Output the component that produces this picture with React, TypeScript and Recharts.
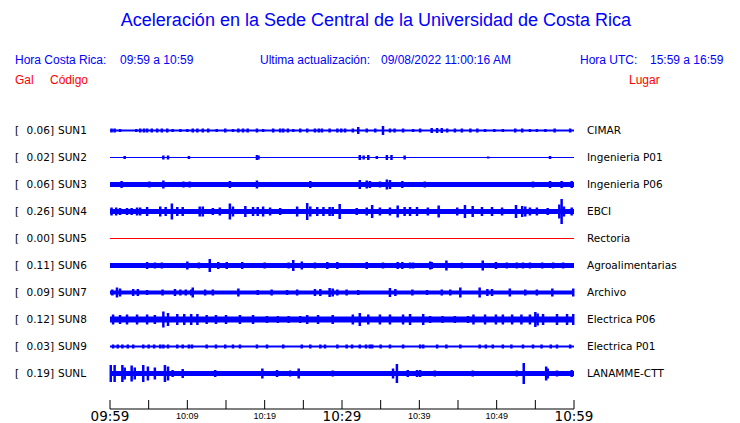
import { ComposedChart, Area, Scatter, ErrorBar, XAxis, YAxis } from "recharts";

const STATIONS = ["SUN1", "SUN2", "SUN3", "SUN4", "SUN5", "SUN6", "SUN7", "SUN8", "SUN9", "SUNL"];
const GAL = ["0.06", "0.02", "0.06", "0.26", "0.00", "0.11", "0.09", "0.12", "0.03", "0.19"];
const PLACES = [
  "CIMAR",
  "Ingenieria P01",
  "Ingenieria P06",
  "EBCI",
  "Rectoria",
  "Agroalimentarias",
  "Archivo",
  "Electrica P06",
  "Electrica P01",
  "LANAMME-CTT",
];
// steady noise level of each trace (half height, 1/27 of a row)
const BASE = [1, 0.5, 2.5, 2.5, 0.5, 2.5, 2, 3, 1, 2.5];

// [minute after 09:59, half amplitude]
const SUN1 = [[0.2, 2], [0.6, 2], [1.3, 1.5], [3.4, 1.5], [3.9, 2], [4.4, 2], [4.8, 2], [5.4, 2], [6.1, 2], [6.7, 2], [7.4, 2], [8.1, 1.5], [9.1, 1.5], [10.0, 1.5], [10.7, 2], [11.3, 2], [12.0, 2], [12.7, 2], [13.8, 1.5], [14.9, 2], [15.9, 1.5], [16.6, 2], [17.2, 2], [17.8, 2], [19.0, 2], [19.8, 1.5], [21.1, 2], [22.0, 2], [22.4, 2], [23.0, 2], [23.7, 1.5], [24.6, 2], [25.5, 2], [26.5, 2], [27.0, 2], [27.4, 2], [28.4, 2], [29.4, 2], [29.9, 2], [30.4, 2], [31.4, 2], [32.1, 3.5], [33.2, 2], [34.3, 2], [35.3, 4.5], [36.2, 2], [36.8, 2], [37.9, 2], [39.2, 1.5], [40.1, 2], [41.6, 2.5], [42.3, 2.5], [42.9, 2.5], [43.6, 2], [44.6, 2], [45.5, 2], [46.6, 2], [47.5, 2], [48.5, 1.5], [49.7, 1.5], [50.8, 1.5], [52.4, 2], [53.3, 2], [54.3, 1.5], [55.2, 1.5], [56.3, 1.5], [57.5, 2], [59.5, 2]];
const SUN2 = [[1.9, 1.5], [6.9, 2], [7.5, 2], [10.2, 1.5], [19.0, 2.5], [19.2, 2], [32.3, 2.5], [32.8, 2], [33.4, 2.5], [34.5, 1.5], [35.8, 2.5], [36.4, 2.5], [38.1, 2], [48.9, 1], [56.9, 1.5]];
const SUN3 = [[1.5, 3.5], [5.1, 3], [6.9, 4], [9.5, 3], [10.3, 3], [15.5, 3.5], [19.0, 4], [25.9, 3.5], [32.3, 4.5], [33.2, 4], [33.6, 3.5], [34.9, 3], [35.8, 5], [36.2, 4.5], [37.8, 3.5], [40.7, 3], [54.7, 3], [56.9, 3.5], [58.4, 3.5], [59.7, 3.5]];
const SUN4 = [[0.2, 4], [0.8, 4], [1.3, 3.5], [2.2, 3.5], [2.8, 3.5], [3.5, 4], [3.9, 4], [4.8, 4.5], [6.5, 5], [7.2, 4.5], [8.0, 8], [8.7, 4.5], [9.4, 4.5], [11.6, 5], [12.0, 5], [13.3, 3.5], [14.2, 4], [15.5, 8], [15.9, 5], [17.5, 5.5], [18.5, 4.5], [19.1, 4.5], [19.8, 5], [20.7, 4], [22.0, 3.5], [24.2, 5], [25.5, 8.5], [25.9, 5], [26.8, 4.5], [27.6, 4.5], [28.4, 4.5], [28.8, 4.5], [29.7, 7.5], [31.9, 3.5], [33.2, 4], [33.9, 6.5], [34.9, 4], [36.2, 4], [37.2, 6], [38.1, 4.5], [38.8, 4.5], [39.7, 4.5], [41.1, 4], [42.5, 6], [44.9, 4], [45.9, 6.5], [46.9, 5.5], [48.1, 4.5], [49.4, 4.5], [50.7, 4], [52.5, 6.5], [53.3, 5.5], [53.7, 5], [54.3, 4], [55.2, 4], [56.6, 3.5], [58.1, 7], [58.4, 12.5], [58.7, 5], [59.7, 4]];
const SUN5: number[][] = [];
const SUN6 = [[4.8, 3.5], [5.8, 3], [6.7, 3], [10.0, 4], [11.5, 3], [12.9, 6.5], [14.0, 3.5], [15.1, 3.5], [17.1, 3.5], [20.0, 3], [23.1, 3], [23.7, 5.5], [24.8, 4], [26.5, 3], [28.1, 3.5], [29.4, 3.5], [33.2, 3.5], [35.3, 3], [37.2, 3.5], [37.8, 3.5], [38.8, 3], [39.2, 3], [41.4, 4], [41.6, 3.5], [43.5, 5], [45.5, 3], [48.2, 5], [49.9, 3.5], [51.3, 3], [52.6, 3], [53.4, 3], [54.3, 3], [55.9, 3], [57.3, 3], [58.6, 3]];
const SUN7 = [[0.3, 3], [0.9, 5], [1.3, 4], [3.0, 3.5], [3.6, 3.5], [4.8, 2.5], [6.8, 3], [8.4, 3.5], [9.1, 3], [9.8, 3], [10.5, 3], [10.7, 5], [12.3, 3], [13.3, 3], [16.6, 4], [19.1, 2.5], [20.9, 3], [22.9, 2.5], [24.2, 3], [26.5, 3.5], [27.2, 3.5], [28.4, 4.5], [28.8, 4], [29.4, 3], [30.6, 3], [32.1, 2.5], [36.2, 4.5], [36.9, 3.5], [39.1, 3], [41.0, 2.5], [42.9, 3], [44.0, 3], [45.3, 5], [47.8, 5], [48.8, 3.5], [49.4, 3.5], [51.7, 4], [53.7, 3], [55.2, 3], [57.2, 4], [59.9, 4]];
const SUN8 = [[0.4, 5], [1.3, 4.5], [2.2, 5], [3.5, 5], [4.8, 5], [5.8, 4.5], [6.9, 8], [7.5, 6.5], [8.7, 5.5], [9.6, 5.5], [10.5, 5.5], [11.3, 5.5], [12.5, 4.5], [13.7, 4.5], [15.0, 4.5], [16.8, 4.5], [18.5, 4.5], [20.3, 3.5], [21.7, 3.5], [23.1, 3.5], [24.6, 3.5], [25.5, 4.5], [26.9, 4.5], [28.8, 4.5], [31.4, 5], [32.3, 6.5], [33.4, 5], [34.9, 5], [36.2, 5], [37.9, 5], [38.8, 5.5], [40.5, 5.5], [41.4, 3.5], [43.0, 3.5], [44.6, 3.5], [46.3, 3.5], [47.0, 5], [48.5, 5], [49.9, 5], [50.8, 5], [52.0, 5], [53.2, 5], [54.3, 5], [55.0, 7.5], [55.3, 6], [56.0, 5.5], [57.8, 5.5], [59.1, 5.5], [59.9, 5.5]];
const SUN9 = [[0.4, 2], [1.0, 2], [1.6, 2], [2.3, 2], [3.0, 2], [4.3, 2], [5.0, 2], [5.7, 2], [6.5, 2], [6.9, 2], [7.5, 2], [8.7, 2], [9.4, 2], [10.2, 2], [10.6, 2], [12.5, 2], [13.7, 2], [14.9, 2], [15.9, 2], [16.8, 2], [19.0, 2], [20.3, 2], [22.4, 2], [24.8, 2], [25.9, 2], [27.2, 2], [27.8, 2], [29.4, 2], [30.6, 2], [31.3, 2], [32.3, 2], [33.1, 2], [33.6, 2], [33.9, 2], [35.0, 2], [36.2, 2], [37.9, 2], [40.1, 2], [40.5, 2], [42.3, 2], [43.5, 2], [45.3, 2], [47.8, 2], [48.6, 2], [49.5, 2], [50.8, 2], [51.9, 2], [53.4, 2], [54.7, 2], [55.8, 2], [57.0, 2], [57.8, 2], [59.5, 2]];
const SUNL = [[0.1, 8.5], [0.6, 8.5], [1.6, 8.5], [1.9, 6], [2.8, 8], [3.2, 6], [4.3, 8.5], [4.9, 7], [5.8, 6], [7.1, 8.5], [7.5, 7], [8.1, 3.5], [9.4, 4.5], [13.6, 3.5], [19.7, 5], [21.6, 3.5], [23.3, 3], [24.4, 5], [28.8, 3], [36.6, 5], [37.1, 9.5], [38.5, 3.5], [39.7, 3.5], [40.1, 3.5], [42.0, 3], [46.9, 3], [52.6, 3], [53.5, 10.5], [56.4, 7], [56.6, 5], [57.8, 3], [59.7, 3.5]];
const SPIKES = [SUN1, SUN2, SUN3, SUN4, SUN5, SUN6, SUN7, SUN8, SUN9, SUNL];

const TIME_TICKS = [0, 5, 10, 15, 20, 25, 30, 35, 40, 45, 50, 55, 60];
const TIME_LABELS = ["09:59", "", "10:09", "", "10:19", "", "10:29", "", "10:39", "", "10:49", "", "10:59"];

const BLUE = "#0000ff";
const RED = "#ff0000";
const ROW_PX = 27;
const rowY = (i: number) => STATIONS.length - 0.5 - i;
const Y_DOMAIN = [STATIONS.length - 292 / ROW_PX, STATIONS.length];

const LeftTick = ({ y, payload }: any) => {
  const i = Math.round(STATIONS.length - 0.5 - payload.value);
  return (
    <g fontFamily="DejaVu Sans" fontSize={10.5} fill="#000">
      <text x={15} y={y} dy="0.36em" textAnchor="start">[</text>
      <text x={54} y={y} dy="0.36em" textAnchor="end">{`${GAL[i]}]`}</text>
      <text x={58} y={y} dy="0.36em" textAnchor="start">{STATIONS[i]}</text>
    </g>
  );
};

const RightTick = ({ y, payload }: any) => {
  const i = Math.round(STATIONS.length - 0.5 - payload.value);
  return (
    <text x={587} y={y} dy="0.36em" textAnchor="start" fontFamily="DejaVu Sans" fontSize={10.5} fill="#000">
      {PLACES[i]}
    </text>
  );
};

const TimeTick = ({ x, y, payload }: any) => {
  const idx = TIME_TICKS.indexOf(payload.value);
  const big = payload.value % 30 === 0;
  return (
    <text
      x={x}
      y={y + (big ? 12 : 10)}
      textAnchor="middle"
      fontFamily={big ? "DejaVu Sans" : "Liberation Sans"}
      fontSize={big ? 13.5 : 9}
      fill="#000"
    >
      {TIME_LABELS[idx]}
    </text>
  );
};

const NoDot = () => null;

export default function App() {
  const hdr = { position: "absolute" as const, fontFamily: "Liberation Sans, Arial, sans-serif", fontSize: 12, whiteSpace: "pre" as const };
  return (
    <div style={{ position: "absolute", left: 0, top: 0, width: 740, height: 423, background: "#fff" }}>
      <div style={{ position: "absolute", left: 0, top: 10, width: 752, textAlign: "center", fontFamily: "Liberation Sans, Arial, sans-serif", fontSize: 18, color: BLUE }}>
        Aceleración en la Sede Central de la Universidad de Costa Rica
      </div>
      <div style={{ ...hdr, left: 15, top: 53, color: BLUE }}>Hora Costa Rica:</div>
      <div style={{ ...hdr, left: 120, top: 53, color: BLUE }}>09:59 a 10:59</div>
      <div style={{ ...hdr, left: 260, top: 53, color: BLUE }}>Ultima actualización:</div>
      <div style={{ ...hdr, left: 381, top: 53, color: BLUE }}>09/08/2022 11:00:16 AM</div>
      <div style={{ ...hdr, left: 580, top: 53, color: BLUE }}>Hora UTC:</div>
      <div style={{ ...hdr, left: 650, top: 53, color: BLUE }}>15:59 a 16:59</div>
      <div style={{ ...hdr, left: 15, top: 73, color: RED }}>Gal</div>
      <div style={{ ...hdr, left: 50, top: 73, color: RED }}>Código</div>
      <div style={{ ...hdr, left: 629, top: 73, color: RED }}>Lugar</div>

      <div style={{ position: "absolute", left: 0, top: 0 }}>
        <ComposedChart width={740} height={423} margin={{ top: 117, right: 0, bottom: 0, left: 0 }}>
          <XAxis
            dataKey="t"
            type="number"
            domain={[0, 60]}
            ticks={TIME_TICKS}
            interval={0}
            allowDataOverflow
            height={14}
            stroke="#000"
            tickSize={-9}
            tickMargin={9}
            tick={<TimeTick />}
          />
          <YAxis
            dataKey="y"
            type="number"
            domain={Y_DOMAIN}
            allowDataOverflow
            ticks={STATIONS.map((_, i) => rowY(i))}
            interval={0}
            width={110}
            axisLine={false}
            tickLine={false}
            tick={<LeftTick />}
          />
          <YAxis
            yAxisId="r"
            orientation="right"
            type="number"
            domain={Y_DOMAIN}
            allowDataOverflow
            ticks={STATIONS.map((_, i) => rowY(i))}
            interval={0}
            width={166}
            axisLine={false}
            tickLine={false}
            tick={<RightTick />}
          />
          {STATIONS.map((s, i) => {
            const c = i === 4 ? RED : BLUE;
            const b = BASE[i] / ROW_PX;
            const band = [0, 60].map((t) => ({ t, band: [rowY(i) - b, rowY(i) + b] }));
            return (
              <Area
                key={`b-${s}`}
                data={band}
                dataKey="band"
                type="linear"
                stroke="none"
                fill={c}
                fillOpacity={1}
                isAnimationActive={false}
              />
            );
          })}
          {STATIONS.map((s, i) =>
            SPIKES[i].length ? (
              <Scatter
                key={`s-${s}`}
                data={SPIKES[i].map(([t, a]) => ({ t, y: rowY(i), amp: a / ROW_PX }))}
                shape={NoDot}
                isAnimationActive={false}
              >
                <ErrorBar dataKey="amp" direction="y" width={0} stroke={BLUE} strokeWidth={2.5} isAnimationActive={false} />
              </Scatter>
            ) : null
          )}
        </ComposedChart>
      </div>
    </div>
  );
}
